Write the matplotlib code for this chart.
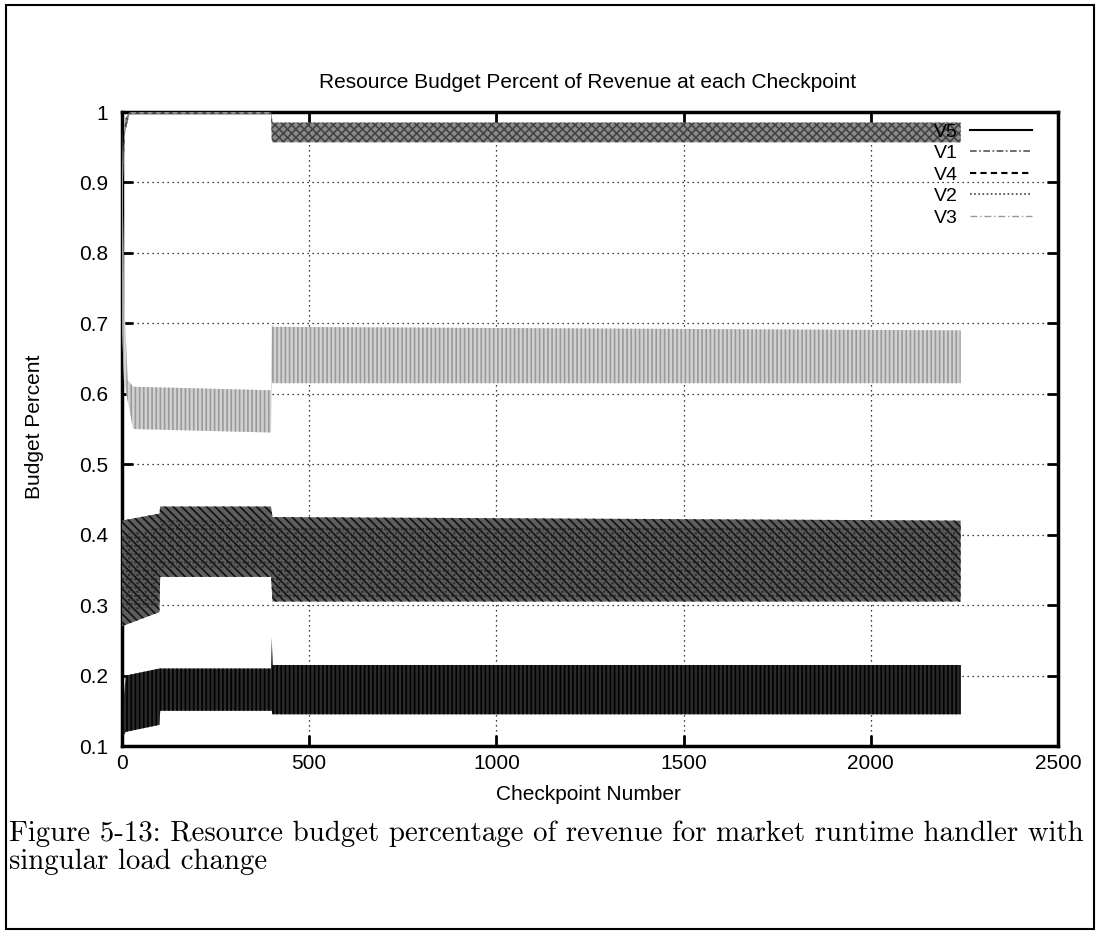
import matplotlib
matplotlib.use("Agg")
from matplotlib import pyplot as plt
from matplotlib.lines import Line2D
from matplotlib.patches import Rectangle

# envelopes (low / high) of each oscillating series
v1_x = [0, 8, 20, 398, 400, 402, 2240]
v1_lo = [0.87, 0.97, 0.997, 0.997, 0.96, 0.957, 0.957]
v1_hi = [0.90, 0.99, 1.0, 1.0, 0.995, 0.985, 0.985]

v3_x = [0, 5, 15, 30, 398, 400, 402, 2240]
v3_lo = [0.70, 0.62, 0.59, 0.55, 0.545, 0.62, 0.615, 0.615]
v3_hi = [0.98, 0.75, 0.62, 0.61, 0.605, 0.70, 0.695, 0.69]

v4_x = [0, 100, 102, 398, 402, 2240]
v4_lo = [0.27, 0.29, 0.34, 0.34, 0.305, 0.305]
v4_hi = [0.42, 0.43, 0.44, 0.44, 0.425, 0.42]

v2_x = [0, 100, 102, 398, 402, 2240]
v2_lo = [0.29, 0.30, 0.35, 0.35, 0.31, 0.31]
v2_hi = [0.40, 0.41, 0.42, 0.42, 0.41, 0.41]

v5_x = [0, 10, 100, 102, 398, 400, 402, 2240]
v5_lo = [0.11, 0.12, 0.13, 0.15, 0.15, 0.15, 0.145, 0.145]
v5_hi = [0.14, 0.20, 0.21, 0.21, 0.21, 0.255, 0.215, 0.215]

x_ticks = [0, 500, 1000, 1500, 2000, 2500]
y_ticks = [0.1, 0.2, 0.3, 0.4, 0.5, 0.6, 0.7, 0.8, 0.9, 1.0]
y_labels = ["0.1", "0.2", "0.3", "0.4", "0.5", "0.6", "0.7", "0.8", "0.9", "1"]

plt.rcParams["font.family"] = ["Liberation Sans", "DejaVu Sans"]
plt.rcParams["hatch.linewidth"] = 1.2

fig = plt.figure(figsize=(10.98, 9.31), dpi=100)
ax = fig.add_axes([122 / 1098, 1 - 746 / 931, (1058 - 122) / 1098, (746 - 112) / 931])

ax.fill_between(v1_x, v1_lo, v1_hi, facecolor="#8a8a8a", edgecolor="#444444",
                hatch="xxxx", linewidth=0, zorder=3)
ax.fill_between(v3_x, v3_lo, v3_hi, facecolor="#d2d2d2", edgecolor="#9a9a9a",
                hatch="||||", linewidth=0, zorder=3)
ax.fill_between(v4_x, v4_lo, v4_hi, facecolor="#5e5e5e", edgecolor="#111111",
                hatch="\\\\\\\\", linewidth=0, zorder=3)
ax.fill_between(v2_x, v2_lo, v2_hi, facecolor="none", edgecolor="#2a2a2a",
                hatch="....", linewidth=0, zorder=3)
ax.fill_between(v5_x, v5_lo, v5_hi, facecolor="#2a2a2a", edgecolor="#000000",
                hatch="||||", linewidth=0, zorder=3)

ax.set_xlim(0, 2500)
ax.set_ylim(0.1, 1.0)
ax.set_xticks(x_ticks)
ax.set_yticks(y_ticks)
ax.set_yticklabels(y_labels)
ax.tick_params(direction="in", length=8, width=2, top=True, right=True,
               labeltop=False, labelright=False, labelsize=15)
ax.tick_params(axis="x", pad=6)
ax.tick_params(axis="y", pad=10)
ax.grid(True, color="black", linestyle=(0, (1, 3)), linewidth=0.9)
ax.set_axisbelow(True)
for sp in ax.spines.values():
    sp.set_linewidth(2.5)

handles = [
    Line2D([], [], color="black", lw=1.5, ls="-"),
    Line2D([], [], color="#555555", lw=1.2, ls=(0, (4, 1.5, 1, 1.5))),
    Line2D([], [], color="black", lw=1.5, ls=(0, (3, 2))),
    Line2D([], [], color="#444444", lw=1.2, ls=(0, (1, 1.5))),
    Line2D([], [], color="#999999", lw=1.0, ls=(0, (5, 2, 1, 2))),
]
ax.legend(handles, ["V5", "V1", "V4", "V2", "V3"], loc="upper right",
          bbox_to_anchor=(1032 / 1098, 1 - 123 / 931), bbox_transform=fig.transFigure,
          frameon=False, markerfirst=False, fontsize=14, handlelength=3.2,
          handletextpad=0.6, labelspacing=0.2, borderpad=0, borderaxespad=0)

fig.text(588 / 1098, 1 - 82 / 931, "Resource Budget Percent of Revenue at each Checkpoint",
         ha="center", va="center", fontsize=15)
fig.text(588 / 1098, 1 - 794 / 931, "Checkpoint Number", ha="center", va="center", fontsize=15)
fig.text(35 / 1098, 1 - 427 / 931, "Budget Percent", ha="center", va="center",
         rotation=90, fontsize=15)

fig.text(9 / 1098, 1 - 841 / 931,
         "Figure 5-13: Resource budget percentage of revenue for market runtime handler with",
         ha="left", va="baseline", fontsize=20.8, family=["cmr10", "DejaVu Serif"])
fig.text(9 / 1098, 1 - 869 / 931, "singular load change",
         ha="left", va="baseline", fontsize=20.8, family=["cmr10", "DejaVu Serif"])

fig.patches.append(Rectangle((6 / 1098, 2 / 931), 1088 / 1098, 924 / 931,
                             transform=fig.transFigure, fill=False,
                             edgecolor="black", linewidth=1.5))

fig.savefig("out.png", dpi=100)
plt.close(fig)
